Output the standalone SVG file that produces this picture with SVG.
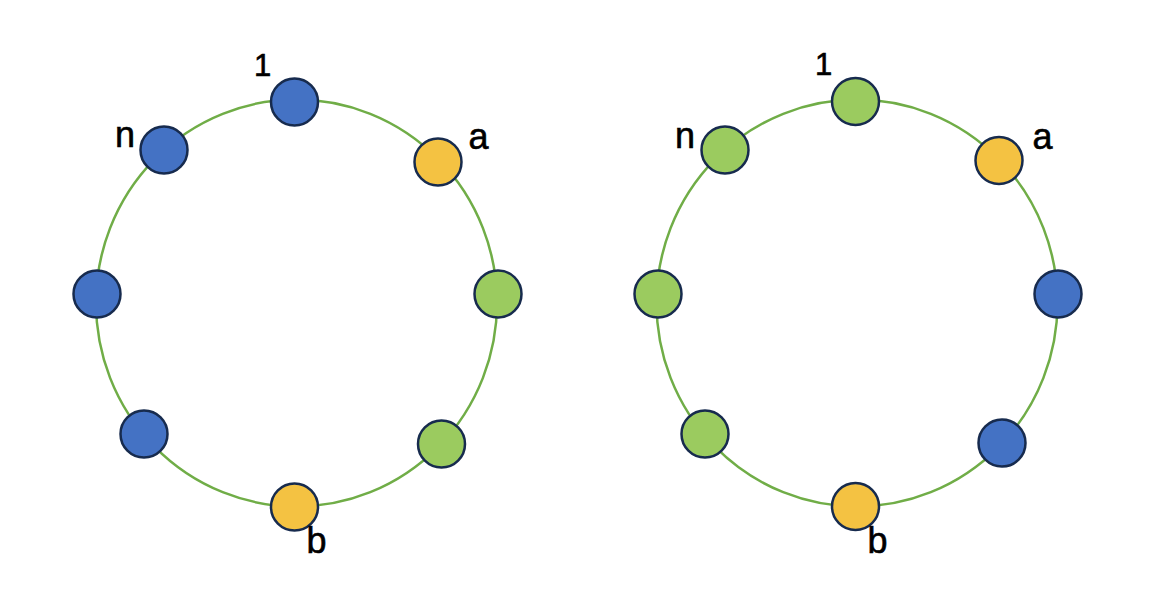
<svg xmlns="http://www.w3.org/2000/svg" width="1152" height="613" viewBox="0 0 1152 613">
<style>
.ring{fill:none;stroke:#70AD47;stroke-width:2.5}
.nd{stroke:#172B4E;stroke-width:2.5}
.bl{fill:#4472C4}
.gr{fill:#9BCB5F}
.ye{fill:#F4C242}
.lbl{font-family:"Liberation Sans",Arial,sans-serif;font-size:36px;fill:#000;stroke:#000;stroke-width:0.6}
.one{font-size:31px}
</style>
<rect width="1152" height="613" fill="#fff"/>
<g id="connectors">
<ellipse class="ring" cx="296.5" cy="303" rx="200.5" ry="203.5"/>
<ellipse class="ring" cx="857" cy="303" rx="200.5" ry="203.5"/>
</g>
<g id="left-1"><circle class="nd bl" cx="294.5" cy="102" r="23.5"/><text class="lbl one" x="254" y="76">1</text></g>
<g id="left-a"><circle class="nd ye" cx="438" cy="162" r="23.5"/><text class="lbl" x="468.5" y="149">a</text></g>
<g id="left-r"><circle class="nd gr" cx="498" cy="294" r="23.5"/></g>
<g id="left-br"><circle class="nd gr" cx="441.5" cy="444" r="23.5"/></g>
<g id="left-b"><circle class="nd ye" cx="294.5" cy="507" r="23.5"/><text class="lbl" x="306.5" y="553">b</text></g>
<g id="left-bl"><circle class="nd bl" cx="144" cy="434" r="23.5"/></g>
<g id="left-l"><circle class="nd bl" cx="97" cy="294" r="23.5"/></g>
<g id="left-n"><circle class="nd bl" cx="164" cy="150" r="23.5"/><text class="lbl" x="115" y="147">n</text></g>
<g id="right-1"><circle class="nd gr" cx="855.5" cy="101.5" r="23.5"/><text class="lbl one" x="815" y="75">1</text></g>
<g id="right-a"><circle class="nd ye" cx="999" cy="160.5" r="23.5"/><text class="lbl" x="1032.5" y="149">a</text></g>
<g id="right-r"><circle class="nd bl" cx="1058" cy="294" r="23.5"/></g>
<g id="right-br"><circle class="nd bl" cx="1002" cy="443" r="23.5"/></g>
<g id="right-b"><circle class="nd ye" cx="855.5" cy="506.5" r="23.5"/><text class="lbl" x="867.5" y="553">b</text></g>
<g id="right-bl"><circle class="nd gr" cx="705" cy="434" r="23.5"/></g>
<g id="right-l"><circle class="nd gr" cx="658" cy="294" r="23.5"/></g>
<g id="right-n"><circle class="nd gr" cx="725" cy="150" r="23.5"/><text class="lbl" x="675" y="148">n</text></g>
</svg>
